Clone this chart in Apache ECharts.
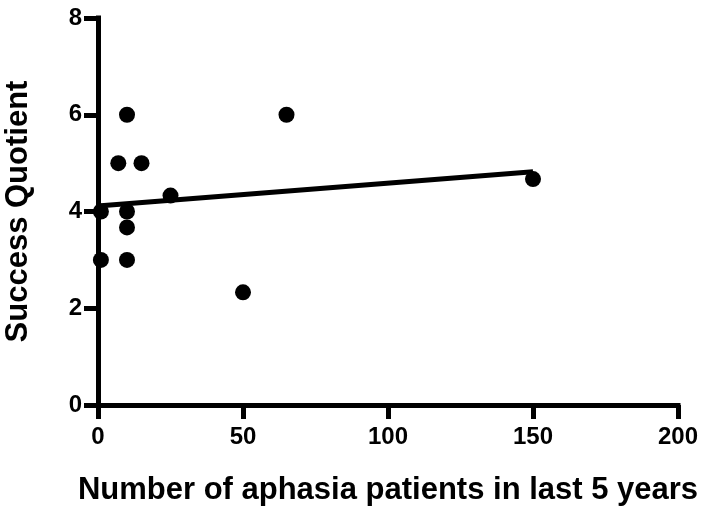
<!DOCTYPE html>
<html>
<head>
<meta charset="utf-8">
<script src="https://cdn.jsdelivr.net/npm/echarts@6/dist/echarts.min.js"></script>
<style>
  html, body { margin: 0; padding: 0; background: #fff; }
  #chart { width: 701px; height: 512px; }
</style>
</head>
<body>
<div id="chart"></div>
<script>
// Aphasia caseload vs. success quotient
const patientCounts = [1, 1, 10, 7, 15, 10, 10, 10, 25, 50, 65, 150];
const successQuotients = [3, 4, 6, 5, 5, 4, 3.67, 3, 4.33, 2.33, 6, 4.67];

// Linear fit endpoints (x, y)
const fitX = [1, 150];
const fitY = [4.12, 4.82];

const xTicks = [0, 50, 100, 150, 200];
const yTicks = [0, 2, 4, 6, 8];

const points = patientCounts.map((x, i) => [x, successQuotients[i]]);
const fitLine = fitX.map((x, i) => [x, fitY[i]]);

const FONT = '"Liberation Sans", Arial, Helvetica, sans-serif';

const chart = echarts.init(document.getElementById('chart'), null, { renderer: 'canvas' });

function makeAxis(ticks, name, nameGap, labelMargin) {
  return {
    type: 'value',
    min: ticks[0],
    max: ticks[ticks.length - 1],
    interval: ticks[1] - ticks[0],
    name: name,
    nameLocation: 'middle',
    nameGap: nameGap,
    nameTextStyle: { color: '#000', fontSize: 31, fontWeight: 'bold', fontFamily: FONT },
    axisLine: { show: true, onZero: false, lineStyle: { color: '#000', width: 5, cap: 'square' } },
    axisTick: { show: true, inside: false, length: 14, lineStyle: { color: '#000', width: 5 } },
    splitLine: { show: false },
    axisLabel: { color: '#000', fontSize: 24, fontWeight: 'bold', fontFamily: FONT, margin: labelMargin }
  };
}

chart.setOption({
  backgroundColor: '#fff',
  animation: false,
  grid: { left: 98, right: 23, top: 18, bottom: 107, containLabel: false, outerBoundsMode: 'none' },
  xAxis: makeAxis(xTicks, 'Number of aphasia patients in last 5 years', 70, 20),
  yAxis: makeAxis(yTicks, 'Success Quotient', 64, 16),
  series: [
    {
      type: 'line',
      data: fitLine,
      symbol: 'none',
      lineStyle: { color: '#000', width: 5, opacity: 1 },
      z: 3,
      silent: true
    },
    {
      type: 'scatter',
      data: points,
      symbol: 'circle',
      symbolSize: 16,
      itemStyle: { color: '#000', opacity: 1 },
      clip: false,
      z: 4
    }
  ]
});
</script>
</body>
</html>
